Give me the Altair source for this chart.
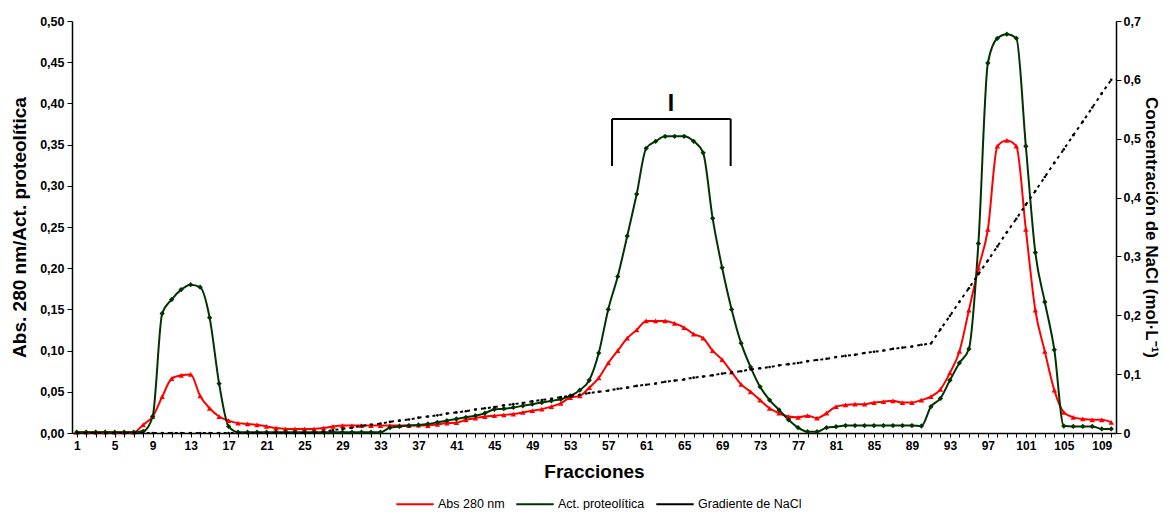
import altair as alt
import pandas as pd

fractions = list(range(1, 111))

abs280 = [0.001, 0.001, 0.001, 0.001, 0.001, 0.001, 0.001, 0.010, 0.020, 0.044,
          0.066, 0.070, 0.071, 0.045, 0.030, 0.020, 0.015, 0.012, 0.011, 0.010,
          0.008, 0.006, 0.005, 0.005, 0.005, 0.005, 0.006, 0.008, 0.009, 0.009,
          0.009, 0.009, 0.009, 0.009, 0.009, 0.009, 0.0095, 0.009, 0.0105, 0.012,
          0.0125, 0.016, 0.018, 0.020, 0.021, 0.022, 0.023, 0.025, 0.027, 0.029,
          0.032, 0.036, 0.043, 0.045, 0.055, 0.067, 0.085, 0.100, 0.115, 0.125,
          0.136, 0.136, 0.136, 0.133, 0.128, 0.120, 0.115, 0.100, 0.089, 0.074,
          0.059, 0.050, 0.040, 0.030, 0.024, 0.020, 0.019, 0.021, 0.018, 0.024,
          0.032, 0.034, 0.035, 0.035, 0.037, 0.038, 0.039, 0.037, 0.037, 0.040,
          0.044, 0.053, 0.073, 0.099, 0.149, 0.200, 0.247, 0.348, 0.355, 0.348,
          0.247, 0.149, 0.099, 0.052, 0.025, 0.019, 0.017, 0.016, 0.016, 0.013]

act_prot = [0.001, 0.001, 0.001, 0.001, 0.001, 0.001, 0.001, 0.002, 0.020, 0.145,
            0.162, 0.174, 0.180, 0.177, 0.140, 0.060, 0.008, 0.001, 0.001, 0.001,
            0.001, 0.001, 0.001, 0.001, 0.001, 0.001, 0.001, 0.001, 0.001, 0.001,
            0.001, 0.001, 0.001, 0.0065, 0.008, 0.009, 0.0097, 0.011, 0.013, 0.015,
            0.017, 0.019, 0.021, 0.024, 0.0287, 0.0295, 0.031, 0.033, 0.035, 0.037,
            0.039, 0.041, 0.045, 0.052, 0.064, 0.097, 0.150, 0.190, 0.239, 0.290,
            0.3455, 0.354, 0.360, 0.360, 0.360, 0.354, 0.340, 0.2605, 0.2006, 0.150,
            0.109, 0.080, 0.056, 0.040, 0.028, 0.016, 0.0065, 0.0016, 0.0016, 0.0065,
            0.0077, 0.009, 0.009, 0.009, 0.009, 0.009, 0.009, 0.009, 0.009, 0.0085,
            0.032, 0.042, 0.064, 0.085, 0.102, 0.230, 0.449, 0.479, 0.484, 0.479,
            0.348, 0.219, 0.159, 0.101, 0.0085, 0.008, 0.008, 0.008, 0.005, 0.005]

nacl = [0.0, 0.0, 0.0, 0.0, 0.0, 0.0, 0.0, 0.0, 0.0, 0.0,
        0.0, 0.0, 0.0, 0.0, 0.0, 0.0, 0.0, 0.0, 0.0, 0.0,
        0.0, 0.0, 0.0, 0.0, 0.0, 0.0, 0.002, 0.005, 0.007, 0.009,
        0.012, 0.014, 0.016, 0.019, 0.021, 0.023, 0.026, 0.028, 0.030, 0.033,
        0.035, 0.037, 0.040, 0.042, 0.044, 0.047, 0.049, 0.051, 0.054, 0.056,
        0.058, 0.061, 0.063, 0.065, 0.068, 0.070, 0.072, 0.075, 0.077, 0.080,
        0.082, 0.084, 0.087, 0.089, 0.091, 0.094, 0.096, 0.098, 0.101, 0.103,
        0.105, 0.108, 0.110, 0.112, 0.115, 0.117, 0.119, 0.122, 0.124, 0.126,
        0.129, 0.131, 0.133, 0.136, 0.138, 0.140, 0.143, 0.145, 0.147, 0.150,
        0.152, 0.176, 0.199, 0.223, 0.246, 0.270, 0.293, 0.317, 0.341, 0.364,
        0.388, 0.411, 0.435, 0.459, 0.482, 0.506, 0.529, 0.553, 0.577, 0.600]

series_names = ["Abs 280 nm", "Act. proteolítica", "Gradiente de NaCl"]
series_colors = ["#FF0000", "#003300", "#000000"]

left_ticks = [0.0, 0.05, 0.10, 0.15, 0.20, 0.25, 0.30, 0.35, 0.40, 0.45, 0.50]
right_ticks = [0.0, 0.1, 0.2, 0.3, 0.4, 0.5, 0.6, 0.7]

# bracket "I" annotation (fraction range, Abs scale)
bracket_x = [57.4, 57.4, 69.9]
bracket_x2 = [57.4, 69.9, 69.9]
bracket_y = [0.324, 0.381, 0.324]
bracket_y2 = [0.381, 0.381, 0.381]
label_x = [63.6]
label_y = [0.391]
label_text = ["I"]

FONT = "Liberation Sans"

df_abs = pd.DataFrame({"Fraccion": fractions, "valor": abs280,
                       "serie": [series_names[0]] * len(fractions)})
df_act = pd.DataFrame({"Fraccion": fractions, "valor": act_prot,
                       "serie": [series_names[1]] * len(fractions)})
df_left = pd.concat([df_abs, df_act], ignore_index=True)
df_right = pd.DataFrame({"Fraccion": fractions, "valor": nacl,
                         "serie": [series_names[2]] * len(fractions)})
df_bracket = pd.DataFrame({"Fraccion": bracket_x, "Fraccion2": bracket_x2,
                           "valor": bracket_y, "valor2": bracket_y2})
df_label = pd.DataFrame({"Fraccion": label_x, "valor": label_y, "txt": label_text})

x_enc = alt.X(
    "Fraccion:Q",
    scale=alt.Scale(domain=[0.5, 110.5], nice=False, zero=False),
    axis=alt.Axis(
        values=fractions,
        labelExpr="(datum.value - 1) % 4 == 0 ? datum.label : ''",
        title="Fracciones",
        labelFlush=False,
        labelOverlap=False,
    ),
)

y_left = alt.Y(
    "valor:Q",
    scale=alt.Scale(domain=[0, 0.5], nice=False),
    axis=alt.Axis(
        orient="left",
        values=left_ticks,
        labelExpr="replace(format(datum.value, '.2f'), '.', ',')",
        title="Abs. 280 nm/Act. proteolítica",
    ),
)

y_right = alt.Y(
    "valor:Q",
    scale=alt.Scale(domain=[0, 0.7], nice=False),
    axis=alt.Axis(
        orient="right",
        values=right_ticks,
        labelExpr="datum.value == 0 ? '0' : replace(format(datum.value, '.1f'), '.', ',')",
        title="Concentración de NaCl (mol·L⁻¹)",
    ),
)

color_enc = alt.Color(
    "serie:N",
    scale=alt.Scale(domain=series_names, range=series_colors),
    legend=alt.Legend(
        orient="none",
        legendX=323,
        legendY=463,
        direction="horizontal",
        title=None,
        symbolType="stroke",
        symbolSize=1400,
        symbolStrokeWidth=2,
        labelFontSize=12.5,
        labelFont=FONT,
        labelColor="#000000",
        labelOffset=3,
        columnPadding=7,
    ),
)

abs_line = alt.Chart(df_left).mark_line(interpolate="monotone", strokeWidth=2).encode(
    x=x_enc, y=y_left, color=color_enc, detail="serie:N"
)
abs_pts = alt.Chart(df_abs).mark_point(
    filled=True, size=30, opacity=1, shape="triangle-up", color=series_colors[0]
).encode(x=x_enc, y=y_left)
act_pts = alt.Chart(df_act).mark_point(
    filled=True, size=28, opacity=1, shape="diamond", color=series_colors[1]
).encode(x=x_enc, y=y_left)
bracket = alt.Chart(df_bracket).mark_rule(color="#000000", strokeWidth=2).encode(
    x=x_enc, x2="Fraccion2:Q", y=y_left, y2="valor2:Q"
)
label = alt.Chart(df_label).mark_text(
    font=FONT, fontSize=23, fontWeight="bold", baseline="alphabetic", color="#000000"
).encode(x=x_enc, y=y_left, text="txt:N")

left_group = alt.layer(abs_line, abs_pts, act_pts, bracket, label)

nacl_line = alt.Chart(df_right).mark_line(strokeWidth=2, strokeDash=[3, 4]).encode(
    x=x_enc, y=y_right, color=color_enc
)
nacl_pts = alt.Chart(df_right).mark_point(
    filled=True, size=7, opacity=1, shape="circle", color=series_colors[2]
).encode(x=x_enc, y=y_right)
right_group = alt.layer(nacl_line, nacl_pts)

chart = (
    alt.layer(left_group, right_group)
    .resolve_scale(y="independent")
    .properties(
        width=1044,
        height=412,
        padding={"left": 64, "right": 46, "top": 13, "bottom": 77},
        autosize=alt.AutoSizeParams(type="none"),
        background="#FFFFFF",
    )
    .configure_view(stroke=None)
    .configure_axis(
        labelFont=FONT,
        titleFont=FONT,
        labelFontWeight="bold",
        labelColor="#000000",
        titleColor="#000000",
        titleFontWeight="bold",
        domainColor="#000000",
        domainWidth=1.5,
        tickColor="#000000",
        tickWidth=1,
        grid=False,
    )
    .configure_axisX(labelFontSize=12, tickSize=4, labelPadding=3,
                     titleFontSize=19, titlePadding=11)
    .configure_axisLeft(labelFontSize=12.5, tickSize=5, labelPadding=3,
                        titleFontSize=19, titlePadding=10)
    .configure_axisRight(labelFontSize=12.5, tickSize=5, labelPadding=2,
                         titleFontSize=17, titlePadding=1)
)

chart.save("out.html", embed_options={"renderer": "svg", "actions": False})
